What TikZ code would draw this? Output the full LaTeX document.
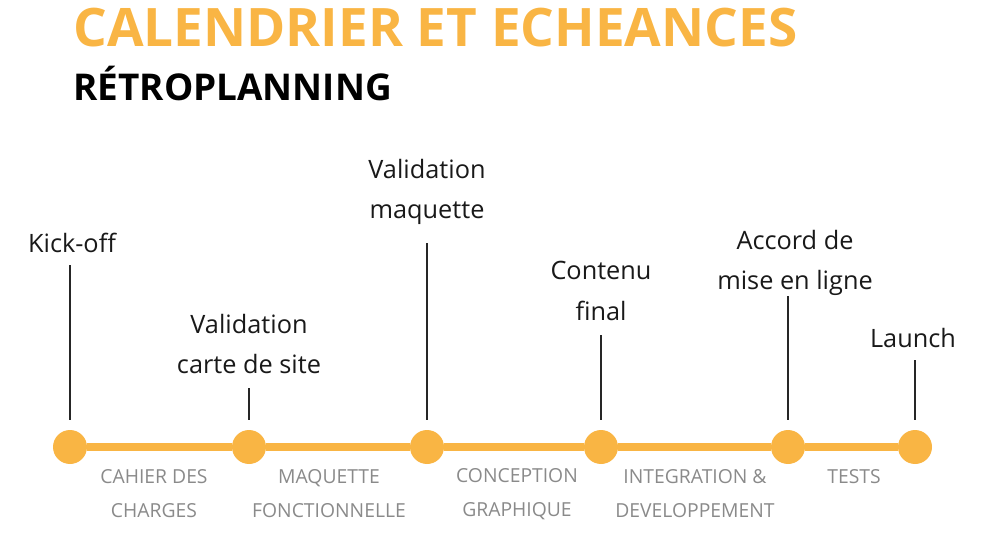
\documentclass[tikz,border=0pt]{standalone}
\usepackage{fontspec}
\setmainfont{Open Sans}
\definecolor{gold}{HTML}{F9B544}
\definecolor{greytxt}{HTML}{8A8A8A}
\begin{document}
\begin{tikzpicture}[x=0.02cm,y=-0.02cm,
  milestone/.style={circle,fill=gold,draw=none,minimum size=0.68cm,inner sep=0},
  track/.style={draw=gold,line width=4.5pt},
  tick/.style={draw=black!85,line width=0.8pt},
  lab/.style={font=\fontsize{14.4pt}{22.9pt}\selectfont,align=center,inner sep=0,text=black!90},
  phase/.style={font=\fontsize{11pt}{19.3pt}\selectfont,align=center,inner sep=0,text=greytxt},
  title/.style={font=\fontsize{30.2pt}{36pt}\selectfont\bfseries,text=gold,anchor=base west,inner sep=0},
  subtitle/.style={font=\fontsize{21pt}{25pt}\selectfont\bfseries,text=black,anchor=base west,inner sep=0}]
\useasboundingbox (0,0) rectangle (1000,544);

\node[title] (t1) at (73,47) {CALENDRIER ET ECHEANCES};
\node[subtitle] (t2) at (73,101) {RÉTROPLANNING};

% milestones
\node[milestone] (m1) at (70,447) {};
\node[milestone] (m2) at (249,447) {};
\node[milestone] (m3) at (427,447) {};
\node[milestone] (m4) at (601,447) {};
\node[milestone] (m5) at (788,447) {};
\node[milestone] (m6) at (915,447) {};

\draw[track] (m1) -- (m2);
\draw[track] (m2) -- (m3);
\draw[track] (m3) -- (m4);
\draw[track] (m4) -- (m5);
\draw[track] (m5) -- (m6);

% labels
\node[lab] (l1) at (72,243) {Kick-off};
\node[lab] (l2) at (249,344) {Validation\\carte de site};
\node[lab] (l3) at (427,192) {Validation\\maquette};
\node[lab] (l4) at (601,291) {Contenu\\final};
\node[lab] (l5) at (795,263) {Accord de\\mise en ligne};
\node[lab] (l6) at (913,338) {Launch};

\coordinate (c1) at (70,265);
\coordinate (c2) at (249,388);
\coordinate (c3) at (427,243);
\coordinate (c4) at (601,335);
\coordinate (c5) at (788,296);
\coordinate (c6) at (915,360);
\draw[tick] (c1) -- ([yshift=0.2cm]m1.north);
\draw[tick] (c2) -- ([yshift=0.2cm]m2.north);
\draw[tick] (c3) -- ([yshift=0.2cm]m3.north);
\draw[tick] (c4) -- ([yshift=0.2cm]m4.north);
\draw[tick] (c5) -- ([yshift=0.2cm]m5.north);
\draw[tick] (c6) -- ([yshift=0.2cm]m6.north);

% phases
\node[phase] (p1) at (154,494) {CAHIER DES\\CHARGES};
\node[phase] (p2) at (329,494) {MAQUETTE\\FONCTIONNELLE};
\node[phase] (p3) at (517,494) {CONCEPTION\\GRAPHIQUE};
\node[phase] (p4) at (695,494) {INTEGRATION \&\\DEVELOPPEMENT};
\node[phase] (p5) at (854,477) {TESTS};
\end{tikzpicture}
\end{document}
